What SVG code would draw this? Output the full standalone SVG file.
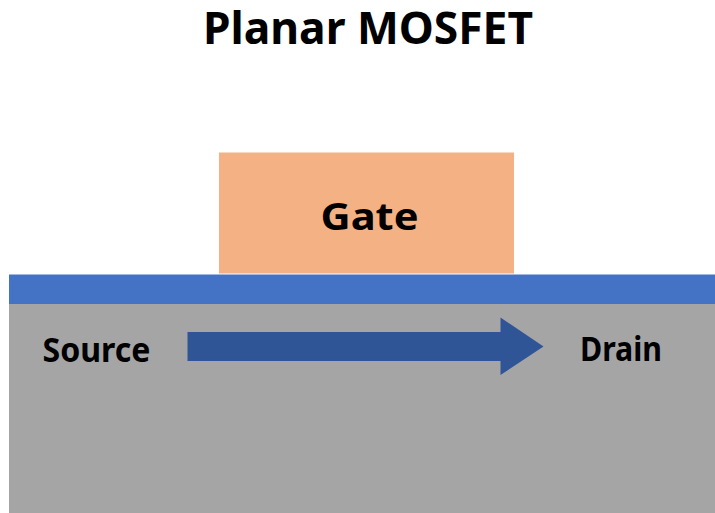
<svg xmlns="http://www.w3.org/2000/svg" width="715" height="513" viewBox="0 0 715 513">
  <style>
    .lbl { font-family: "Noto Sans", "Open Sans", "Liberation Sans", sans-serif; font-weight: bold; fill: #000000; }
  </style>
  <rect x="0" y="0" width="715" height="513" fill="#ffffff"/>

  <!-- Title -->
  <text class="lbl" x="368" y="44" font-size="44" text-anchor="middle" textLength="330" lengthAdjust="spacingAndGlyphs">Planar MOSFET</text>

  <!-- Substrate -->
  <g id="substrate">
    <rect x="9" y="304" width="706" height="209" fill="#A5A5A5"/>
  </g>

  <!-- Gate oxide layer -->
  <g id="oxide">
    <rect x="9" y="274.5" width="706" height="29.5" fill="#4472C4"/>
  </g>

  <!-- Gate electrode -->
  <g id="gate">
    <rect x="219" y="152.5" width="295" height="121" fill="#F4B183"/>
    <text class="lbl" x="369.5" y="229.5" font-size="37" text-anchor="middle" textLength="98" lengthAdjust="spacingAndGlyphs">Gate</text>
  </g>

  <g id="source">
    <text class="lbl" x="42.5" y="361.5" font-size="34" textLength="108" lengthAdjust="spacingAndGlyphs">Source</text>
  </g>

  <g id="drain">
    <text class="lbl" x="580" y="361" font-size="34" textLength="82" lengthAdjust="spacingAndGlyphs">Drain</text>
  </g>

  <!-- Channel current arrow -->
  <g id="connectors">
    <polygon points="187.5,332 500.5,332 500.5,317.5 543.5,346.5 500.5,375 500.5,361 187.5,361" fill="#2F5597"/>
  </g>
</svg>
